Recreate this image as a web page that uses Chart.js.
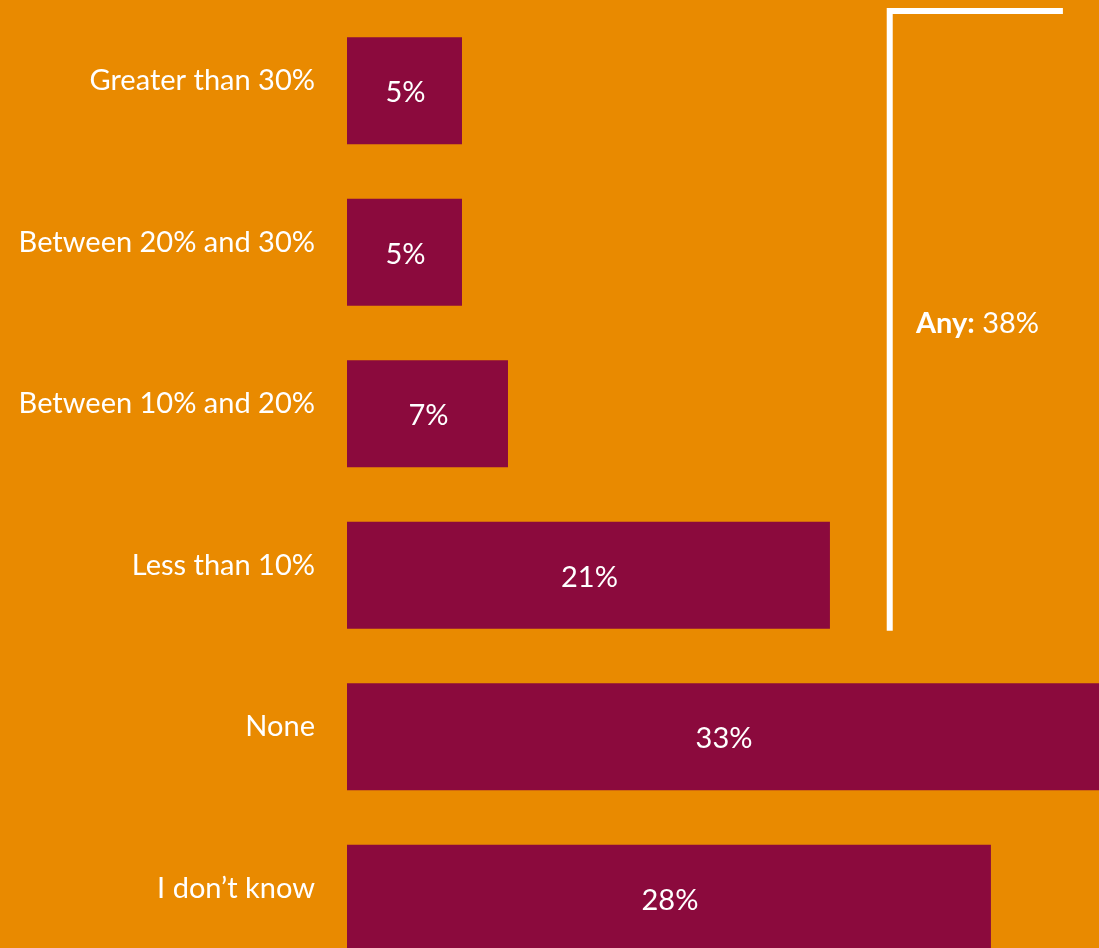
<!DOCTYPE html>
<html>
<head>
<meta charset="utf-8">
<script src="https://cdn.jsdelivr.net/npm/chart.js@4/dist/chart.umd.min.js"></script>
<style>
  html, body { margin: 0; padding: 0; background: #E98A00; overflow: hidden; }
  #wrap { position: relative; width: 1099px; height: 979px; }
</style>
</head>
<body>
<div id="wrap"><canvas id="grafico"></canvas></div>
<script>
const categorias = ['Greater than 30%', 'Between 20% and 30%', 'Between 10% and 20%', 'Less than 10%', 'None', 'I don\u2019t know'];
const valores = [5, 5, 7, 21, 33, 28];
const rotulos = ['5%', '5%', '7%', '21%', '33%', '28%'];

// bracket that groups the first four answers
const grupoFim = 3;
const grupoTitulo = 'Any:';
const grupoValor = ' 38%';

const LARANJA = '#E98A00';
const VINHO = '#8B0A3D';
const FONTE = 'Lato, "Open Sans", sans-serif';

// value text inside each bar
const rotulosPlugin = {
  id: 'rotulos',
  afterDatasetsDraw(chart) {
    const ctx = chart.ctx;
    const area = chart.chartArea;
    const meta = chart.getDatasetMeta(0);
    ctx.save();
    ctx.fillStyle = '#ffffff';
    ctx.font = '29px ' + FONTE;
    ctx.textAlign = 'center';
    ctx.textBaseline = 'middle';
    meta.data.forEach((bar, i) => {
      const direita = Math.min(bar.x, area.right);
      ctx.fillText(rotulos[i], (bar.base + direita) / 2 + 1, bar.y + 2);
    });
    ctx.restore();
  }
};

// white bracket + "Any" total
const chavePlugin = {
  id: 'chave',
  afterDraw(chart) {
    const ctx = chart.ctx;
    const x = chart.scales.x;
    const area = chart.chartArea;
    const ultima = chart.getDatasetMeta(0).data[grupoFim];
    const xv = x.getPixelForValue(23.6);
    const xh = x.getPixelForValue(31.13);
    const topo = area.top + 1;
    const fundo = ultima.y + ultima.height / 2 + 2;

    ctx.save();
    ctx.strokeStyle = '#ffffff';
    ctx.lineWidth = 6;
    ctx.lineCap = 'butt';
    ctx.beginPath();
    ctx.moveTo(xh, topo);
    ctx.lineTo(xv - 3, topo);
    ctx.moveTo(xv, topo - 3);
    ctx.lineTo(xv, fundo);
    ctx.stroke();

    const tx = x.getPixelForValue(24.74);
    const ty = (topo + fundo) / 2 + 3;
    ctx.fillStyle = '#ffffff';
    ctx.textBaseline = 'middle';
    ctx.textAlign = 'left';
    ctx.font = 'bold 29px ' + FONTE;
    ctx.fillText(grupoTitulo, tx, ty);
    const w = ctx.measureText(grupoTitulo).width;
    ctx.font = '29px ' + FONTE;
    ctx.fillText(grupoValor, tx + w, ty);
    ctx.restore();
  }
};

let chart;

function criarGrafico() {
  const ctx = document.getElementById('grafico').getContext('2d');

  chart = new Chart(ctx, {
    type: 'bar',
    data: {
      labels: categorias,
      datasets: [{
        label: 'Share',
        data: valores,
        backgroundColor: VINHO,
        borderWidth: 0,
        barPercentage: 0.6625,
        categoryPercentage: 1
      }]
    },
    options: {
      indexAxis: 'y',
      responsive: true,
      maintainAspectRatio: false,
      animation: false,
      layout: { padding: { top: 10, right: 0, bottom: 0, left: 0 } },
      plugins: {
        legend: { display: false },
        tooltip: { enabled: false }
      },
      scales: {
        x: {
          display: false,
          min: 0,
          max: 32.7
        },
        y: {
          grid: { display: false, drawTicks: false },
          border: { display: false },
          afterFit(scale) {
            scale.width = 347;
            scale.paddingTop = 0;
            scale.paddingBottom = 0;
          },
          ticks: {
            color: '#ffffff',
            padding: 32,
            labelOffset: -10,
            font: { family: FONTE, size: 29 }
          }
        }
      }
    },
    plugins: [rotulosPlugin, chavePlugin]
  });
}

window.onload = function () {
  criarGrafico();
};
</script>
</body>
</html>
